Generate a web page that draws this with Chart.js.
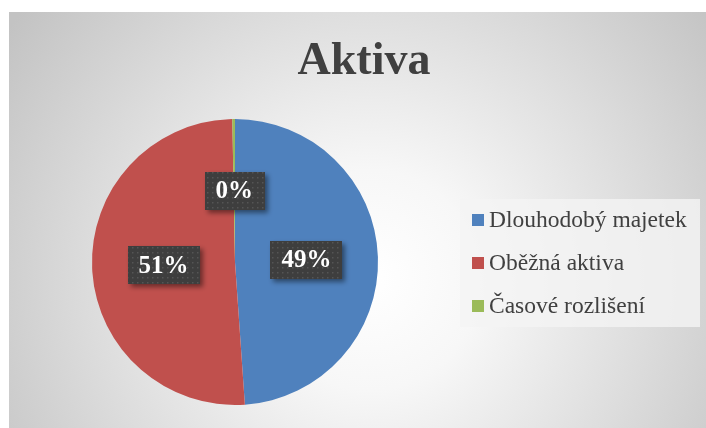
<!DOCTYPE html>
<html>
<head>
<meta charset="utf-8">
<script src="https://cdn.jsdelivr.net/npm/chart.js@4/dist/chart.umd.min.js"></script>
<style>
  html, body { margin: 0; padding: 0; background: #fff; }
  canvas { display: block; }
</style>
</head>
<body>
<canvas id="aktiva" width="706" height="428"></canvas>
<script>
const categories = ['Dlouhodobý majetek', 'Oběžná aktiva', 'Časové rozlišení']
const shares = [48.9, 50.8, 0.3]
const sliceColors = ['#4f81bd', '#c0504d', '#9bbb59']
const chartTitle = 'Aktiva'

const textColor = '#404040'
const serif = '"Liberation Serif", "Times New Roman", serif'

// dotted dark fill used behind the percentage labels
const makeDots = (ctx) => {
  const c = document.createElement('canvas')
  c.width = 5
  c.height = 5
  const p = c.getContext('2d')
  p.fillStyle = '#3e3e3e'
  p.fillRect(0, 0, 5, 5)
  p.fillStyle = '#555555'
  p.fillRect(2, 2, 1.5, 1.5)
  return ctx.createPattern(c, 'repeat')
}

const backdrop = {
  id: 'backdrop',
  beforeDraw: (chart) => {
    const { ctx, width, height } = chart
    ctx.save()
    ctx.fillStyle = '#fff'
    ctx.fillRect(0, 0, width, height)
    const g = ctx.createRadialGradient(370, 280, 0, 370, 280, 440)
    g.addColorStop(0, '#ffffff')
    g.addColorStop(0.25, '#f7f7f7')
    g.addColorStop(1, '#c3c3c3')
    ctx.fillStyle = g
    ctx.fillRect(9, 12, width - 9, height - 12)
    ctx.fillStyle = 'rgba(244,244,244,0.8)'
    ctx.fillRect(460, 199, 240, 128)

    ctx.fillStyle = textColor
    ctx.font = 'bold 46px ' + serif
    ctx.textAlign = 'center'
    ctx.textBaseline = 'alphabetic'
    ctx.fillText(chartTitle, 364, 74)
    ctx.restore()
  }
}

const sideLegend = {
  id: 'sideLegend',
  afterDraw: (chart) => {
    const { ctx } = chart
    const rows = [220, 263, 306]
    ctx.save()
    ctx.font = '23.5px ' + serif
    ctx.textBaseline = 'middle'
    ctx.textAlign = 'left'
    categories.forEach((name, i) => {
      ctx.fillStyle = sliceColors[i]
      ctx.fillRect(472, rows[i] - 6, 12, 12)
      ctx.fillStyle = textColor
      ctx.fillText(name, 489, rows[i] + 1)
    })
    ctx.restore()
  }
}

const pctLabels = {
  id: 'pctLabels',
  afterDatasetsDraw: (chart) => {
    const { ctx } = chart
    const meta = chart.getDatasetMeta(0)
    const total = shares.reduce((s, v) => s + v, 0)
    const dots = makeDots(ctx)
    ctx.save()
    ctx.font = 'bold 25px ' + serif
    meta.data.forEach((arc, i) => {
      const txt = Math.round(shares[i] / total * 100) + '%'
      const { x, y } = arc.getCenterPoint()
      const w = ctx.measureText(txt).width + 22
      const h = 38
      ctx.save()
      ctx.shadowColor = 'rgba(0,0,0,0.45)'
      ctx.shadowBlur = 5
      ctx.shadowOffsetX = 3
      ctx.shadowOffsetY = 3
      ctx.fillStyle = dots
      ctx.fillRect(Math.round(x - w / 2), Math.round(y - h / 2), Math.round(w), h)
      ctx.restore()
      ctx.fillStyle = '#ffffff'
      ctx.textAlign = 'center'
      ctx.textBaseline = 'middle'
      ctx.fillText(txt, x, y + 1)
    })
    ctx.restore()
  }
}

new Chart(document.getElementById('aktiva'), {
  type: 'pie',
  data: {
    labels: categories,
    datasets: [{
      data: shares,
      backgroundColor: sliceColors,
      borderWidth: 0
    }]
  },
  options: {
    responsive: false,
    animation: false,
    layout: { padding: { left: 92, right: 328, top: 119, bottom: 23 } },
    plugins: {
      legend: { display: false },
      title: { display: false },
      tooltip: { enabled: false }
    }
  },
  plugins: [backdrop, pctLabels, sideLegend]
})
</script>
</body>
</html>
